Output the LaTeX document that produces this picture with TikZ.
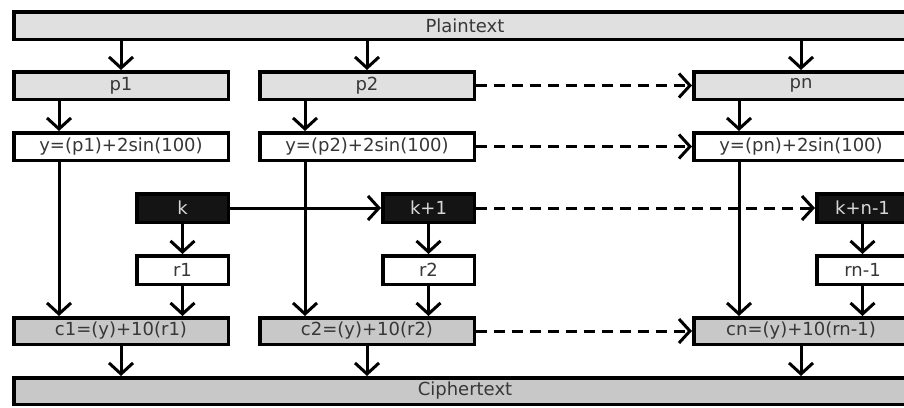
\documentclass[tikz,border=0pt]{standalone}
\usepackage{fontspec}
\setmainfont{DejaVu Sans}
\usetikzlibrary{arrows.meta}
\definecolor{lgray}{RGB}{224,224,224}
\definecolor{dgray}{RGB}{200,200,200}
\definecolor{txt}{RGB}{55,55,55}
\definecolor{ktxt}{RGB}{215,215,215}
\newcommand\mybox[7]{\node[#6, minimum width={#4-#2-3.5}, minimum height={#5-#3-3.5}] (#1) at ({(#2+#4)/2},{(#3+#5)/2}) {#7};}
\begin{document}
\begin{tikzpicture}[x=1pt,y=-1pt,
 box/.style={draw=black, line width=3.5pt, inner sep=0pt, font=\fontsize{18}{20}\selectfont, text=txt},
 light/.style={box, fill=lgray},
 plain/.style={box, fill=white},
 dark/.style={box, fill=dgray},
 keybox/.style={box, fill=black!92, text=ktxt},
 arr/.style={line width=3pt, -{Straight Barb[length=11pt,width=24pt]}},
 darr/.style={arr, dash pattern=on 11pt off 7pt}]
\useasboundingbox (0,0) rectangle (904,407);
\clip (0,0) rectangle (904,407);
\fill[white] (0,0) rectangle (904,407);
\mybox{plain}{12}{10}{918}{41}{light}{Plaintext}
\mybox{ciph}{12}{376}{918}{406}{dark}{Ciphertext}
% column 1
\mybox{p1}{12}{70}{230}{101}{light}{p1}
\mybox{y1}{12}{131}{230}{162}{plain}{y=(p1)+2sin(100)}
\mybox{k1}{135}{192}{230}{224}{keybox}{k}
\mybox{r1}{135}{254}{230}{286}{plain}{r1}
\mybox{c1}{12}{316}{230}{346}{dark}{c1=(y)+10(r1)}
% column 2
\mybox{p2}{258}{70}{476}{101}{light}{p2}
\mybox{y2}{258}{131}{476}{162}{plain}{y=(p2)+2sin(100)}
\mybox{k2}{381}{192}{476}{224}{keybox}{k+1}
\mybox{r2}{381}{254}{476}{286}{plain}{r2}
\mybox{c2}{258}{316}{476}{346}{dark}{c2=(y)+10(r2)}
% column n
\mybox{pn}{692}{70}{910}{101}{light}{pn}
\mybox{yn}{692}{131}{910}{162}{plain}{y=(pn)+2sin(100)}
\mybox{kn}{815}{192}{910}{224}{keybox}{k+n-1}
\mybox{rn}{815}{254}{910}{286}{plain}{rn-1}
\mybox{cn}{692}{316}{910}{346}{dark}{cn=(y)+10(rn-1)}
% arrows
\foreach \c in {1,2,n}{
  \draw[arr] (p\c.north |- plain.south) -- (p\c.north);
  \draw[arr] ([xshift=47pt]p\c.south west) -- ([xshift=47pt]p\c.south west |- y\c.north);
  \draw[arr] ([xshift=47pt]y\c.south west) -- ([xshift=47pt]y\c.south west |- c\c.north);
  \draw[arr] (k\c.south) -- (r\c.north);
  \draw[arr] (r\c.south) -- (r\c.south |- c\c.north);
  \draw[arr] (c\c.south) -- (c\c.south |- ciph.north);
}
\draw[arr] (k1.east) -- (k2.west);
\draw[darr] (k2.east) -- (kn.west);
\draw[darr] (p2.east) -- (pn.west);
\draw[darr] (y2.east) -- (yn.west);
\draw[darr] (c2.east) -- (cn.west);
\end{tikzpicture}
\end{document}
